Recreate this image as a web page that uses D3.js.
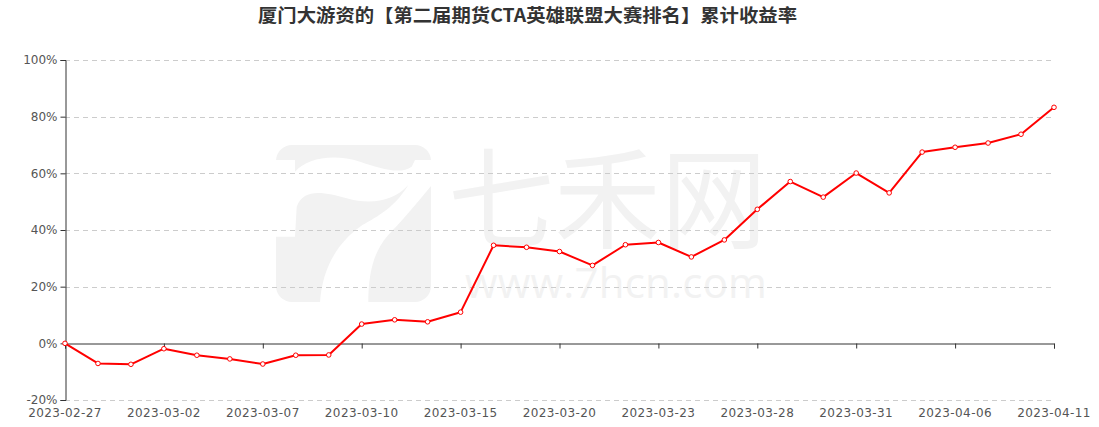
<!DOCTYPE html>
<html>
<head>
<meta charset="utf-8">
<script src="https://cdn.jsdelivr.net/npm/d3@7/dist/d3.min.js"></script>
<style>
  html, body { margin: 0; padding: 0; background: #fff; }
  svg { display: block; }
</style>
</head>
<body>
<svg id="chart" width="1099" height="427"></svg>
<script>
const titleText = "厦门大游资的【第二届期货CTA英雄联盟大赛排名】累计收益率";
const dates = [
  "2023-02-27","2023-02-28","2023-03-01","2023-03-02","2023-03-03","2023-03-06",
  "2023-03-07","2023-03-08","2023-03-09","2023-03-10","2023-03-13","2023-03-14",
  "2023-03-15","2023-03-16","2023-03-17","2023-03-20","2023-03-21","2023-03-22",
  "2023-03-23","2023-03-24","2023-03-27","2023-03-28","2023-03-29","2023-03-30",
  "2023-03-31","2023-04-03","2023-04-04","2023-04-06","2023-04-07","2023-04-10",
  "2023-04-11"
];
const returns = [
  0.0, -7.1, -7.4, -1.9, -4.2, -5.5,
  -7.3, -4.2, -4.1, 6.8, 8.3, 7.6,
  11.0, 34.6, 33.9, 32.4, 27.5, 34.8,
  35.6, 30.5, 36.5, 47.3, 57.1, 51.6,
  60.1, 53.1, 67.5, 69.2, 70.7, 73.8,
  83.3
];
const yTicks = [-20, 0, 20, 40, 60, 80, 100];
const xLabelEvery = 3;

(function () {
const svg = d3.select("#chart");
const padL = 65, padR = 1054, padT = 60, padB = 400;

const x = d3.scalePoint().domain(dates).range([padL, padR]);
const y = d3.scaleLinear().domain([-20, 100]).range([padB, padT]);

// watermark
const wm = svg.append("g").attr("class", "watermark");
const wmColor = "#f2f2f2";
const zx = v => 260 + v / 3, zy = v => 130 + v / 3;
wm.append("rect").attr("x", 276).attr("y", 145).attr("width", 155).attr("height", 157)
  .attr("rx", 16).attr("fill", wmColor);
const P = (a, b) => zx(a).toFixed(1) + "," + zy(b).toFixed(1);
const logoPath = "M" + P(40,90) + " L" + P(105,90) + " L" + P(105,125) +
  " C" + P(140,85) + " " + P(220,70) + " " + P(300,95) +
  " C" + P(360,115) + " " + P(420,135) + " " + P(455,110) +
  " L" + P(465,90) + " L" + P(520,90) + " L" + P(520,160) +
  " C" + P(470,220) + " " + P(420,280) + " " + P(380,320) +
  " C" + P(340,370) + " " + P(325,430) + " " + P(325,520) +
  " L" + P(180,520) +
  " C" + P(185,420) + " " + P(230,340) + " " + P(300,290) +
  " C" + P(340,265) + " " + P(400,240) + " " + P(445,165) +
  " C" + P(400,215) + " " + P(330,225) + " " + P(260,205) +
  " C" + P(190,185) + " " + P(130,175) + " " + P(110,230) +
  " L" + P(105,320) + " L" + P(40,320) + " Z";
wm.append("path").attr("d", logoPath).attr("fill", "#fff");
wm.append("text").attr("x", 448).attr("y", 240)
  .attr("font-family", "'Noto Sans CJK SC', sans-serif").attr("font-size", 110)
  .attr("textLength", 319).attr("lengthAdjust", "spacingAndGlyphs")
  .attr("fill", wmColor).text("七禾网");
wm.append("text").attr("x", 465).attr("y", 298)
  .attr("font-family", "'Open Sans', 'DejaVu Sans', sans-serif").attr("font-size", 42)
  .attr("textLength", 302).attr("lengthAdjust", "spacing")
  .attr("fill", wmColor).text("www.7hcn.com");

// title
svg.append("text").attr("x", 527.5).attr("y", 21.5).attr("text-anchor", "middle")
  .attr("font-family", "'Noto Sans CJK SC', sans-serif").attr("font-weight", "bold")
  .attr("font-size", 18).attr("textLength", 539).attr("lengthAdjust", "spacingAndGlyphs")
  .attr("fill", "#333").text(titleText);

// grid lines
svg.append("g").selectAll("line").data(yTicks.filter(d => d !== 0)).join("line")
  .attr("x1", padL).attr("x2", padR)
  .attr("y1", d => Math.round(y(d)) + 0.5).attr("y2", d => Math.round(y(d)) + 0.5)
  .attr("stroke", "#ccc").attr("stroke-dasharray", "5,4").attr("stroke-width", 1);

// y axis
const yAxis = d3.axisLeft(y).tickValues(yTicks).tickFormat(d => d + "%").tickSize(5).tickPadding(3);
const gy = svg.append("g").attr("transform", `translate(${padL + 0.5},0)`).call(yAxis);
gy.select(".domain").attr("stroke", "#333");
gy.selectAll(".tick line").attr("stroke", "#333");
gy.selectAll(".tick text").attr("font-family", "'DejaVu Sans', sans-serif")
  .attr("font-size", 12).attr("fill", "#555");

// x axis at zero
const xAxis = d3.axisBottom(x)
  .tickValues(dates.filter((d, i) => i % xLabelEvery === 0))
  .tickSize(5).tickFormat("");
const gx = svg.append("g").attr("transform", `translate(0,${Math.round(y(0)) + 0.5})`).call(xAxis);
gx.select(".domain").attr("stroke", "#333");
gx.selectAll(".tick line").attr("stroke", "#333");

// x labels at bottom
svg.append("g").selectAll("text").data(dates.filter((d, i) => i % xLabelEvery === 0)).join("text")
  .attr("x", d => x(d)).attr("y", 417).attr("text-anchor", "middle")
  .attr("font-family", "'DejaVu Sans', sans-serif").attr("font-size", 12)
  .attr("letter-spacing", 0.4).attr("fill", "#555").text(d => d);

// line
const line = d3.line().x((d, i) => x(dates[i])).y(d => y(d));
svg.append("path").datum(returns).attr("d", line)
  .attr("fill", "none").attr("stroke", "#ff0000").attr("stroke-width", 2)
  .attr("stroke-linejoin", "round");

svg.append("g").selectAll("circle").data(returns).join("circle")
  .attr("cx", (d, i) => x(dates[i])).attr("cy", d => y(d)).attr("r", 2.3)
  .attr("fill", "#fff").attr("stroke", "#ff0000").attr("stroke-width", 1);
})();
</script>
</body>
</html>
